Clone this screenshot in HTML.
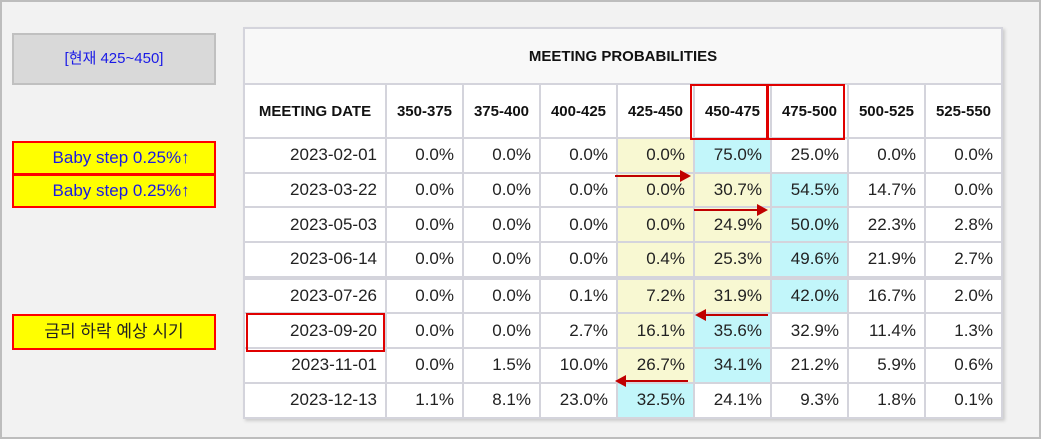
<!DOCTYPE html>
<html><head><meta charset="utf-8"><style>
body{margin:0;width:1041px;height:439px;background:#f2f2f2;position:relative;overflow:hidden;font-family:"Liberation Sans","Noto Sans CJK KR",sans-serif}
#frame{position:absolute;left:0;top:0;width:1037px;height:435px;border:2px solid #bdbdbd}
.lbl{position:absolute;left:12px;width:200px;text-align:center;color:#1a1ae6;font-size:17px}
table{position:absolute;left:243px;top:27px;border-collapse:collapse;background:#fff;box-shadow:2px 2px 3px #ccc}
td,th{border:2px solid #d4d4dc;padding:0 8px 0 0;text-align:right;font-size:17px;color:#222;height:32.7px;width:67px}
th{font-size:15px;font-weight:bold;text-align:center;padding:0;height:52px;color:#111}
.y{background:#f8f8d2}.c{background:#c2f6fa}
.box{position:absolute;border:2px solid #e00000}
.arr{position:absolute;height:2px;background:#c00000}
</style></head><body>
<div id="frame"></div>
<div class="lbl" style="top:33px;height:48px;line-height:48px;background:#d9d9d9;border:2px solid #c0c0c0;font-size:15px">[현재 425~450]</div>
<div class="lbl" style="top:141px;height:30px;line-height:30px;background:#ff0;border:2px solid #f00">&nbsp;&nbsp;&nbsp;Baby step 0.25%↑</div>
<div class="lbl" style="top:174px;height:30px;line-height:30px;background:#ff0;border:2px solid #f00">&nbsp;&nbsp;&nbsp;Baby step 0.25%↑</div>
<div class="lbl" style="top:314px;height:32px;line-height:32px;background:#ff0;border:2px solid #f00;color:#222">금리 하락 예상 시기</div>
<table>
<tr><th colspan="9" style="height:54px;font-size:15px;background:#f8f8f8">MEETING PROBABILITIES</th></tr>
<tr><th style="width:140px">MEETING DATE</th><th>350-375</th><th>375-400</th><th>400-425</th><th>425-450</th><th>450-475</th><th>475-500</th><th>500-525</th><th>525-550</th></tr>
<tr><td style="width:132px">2023-02-01</td><td>0.0%</td><td>0.0%</td><td>0.0%</td><td class="y">0.0%</td><td class="c">75.0%</td><td>25.0%</td><td>0.0%</td><td>0.0%</td></tr>
<tr><td>2023-03-22</td><td>0.0%</td><td>0.0%</td><td>0.0%</td><td class="y">0.0%</td><td class="y">30.7%</td><td class="c">54.5%</td><td>14.7%</td><td>0.0%</td></tr>
<tr><td>2023-05-03</td><td>0.0%</td><td>0.0%</td><td>0.0%</td><td class="y">0.0%</td><td class="y">24.9%</td><td class="c">50.0%</td><td>22.3%</td><td>2.8%</td></tr>
<tr style="border-bottom:4px solid #d4d4dc"><td>2023-06-14</td><td>0.0%</td><td>0.0%</td><td>0.0%</td><td class="y">0.4%</td><td class="y">25.3%</td><td class="c">49.6%</td><td>21.9%</td><td>2.7%</td></tr>
<tr><td>2023-07-26</td><td>0.0%</td><td>0.0%</td><td>0.1%</td><td class="y">7.2%</td><td class="y">31.9%</td><td class="c">42.0%</td><td>16.7%</td><td>2.0%</td></tr>
<tr><td>2023-09-20</td><td>0.0%</td><td>0.0%</td><td>2.7%</td><td class="y">16.1%</td><td class="c">35.6%</td><td>32.9%</td><td>11.4%</td><td>1.3%</td></tr>
<tr><td>2023-11-01</td><td>0.0%</td><td>1.5%</td><td>10.0%</td><td class="y">26.7%</td><td class="c">34.1%</td><td>21.2%</td><td>5.9%</td><td>0.6%</td></tr>
<tr><td>2023-12-13</td><td>1.1%</td><td>8.1%</td><td>23.0%</td><td class="c">32.5%</td><td>24.1%</td><td>9.3%</td><td>1.8%</td><td>0.1%</td></tr>
</table>
<div class="box" style="left:690px;top:84px;width:74px;height:52px"></div>
<div class="box" style="left:767px;top:84px;width:74px;height:52px"></div>
<div class="box" style="left:246px;top:313px;width:135px;height:35px"></div>
<div class="arr" style="left:615px;top:175px;width:66px"></div>
<div style="position:absolute;left:680px;top:170px;border-left:11px solid #c00000;border-top:6px solid transparent;border-bottom:6px solid transparent"></div>
<div class="arr" style="left:694px;top:209px;width:64px"></div>
<div style="position:absolute;left:757px;top:204px;border-left:11px solid #c00000;border-top:6px solid transparent;border-bottom:6px solid transparent"></div>
<div class="arr" style="left:705px;top:314px;width:63px"></div>
<div style="position:absolute;left:695px;top:309px;border-right:11px solid #c00000;border-top:6px solid transparent;border-bottom:6px solid transparent"></div>
<div class="arr" style="left:626px;top:380px;width:62px"></div>
<div style="position:absolute;left:615px;top:375px;border-right:11px solid #c00000;border-top:6px solid transparent;border-bottom:6px solid transparent"></div>
</body></html>
